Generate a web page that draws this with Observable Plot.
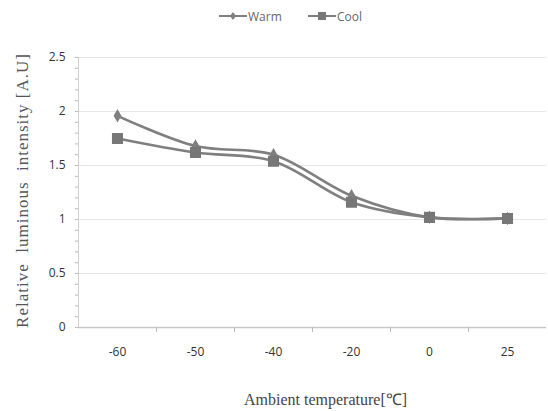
<!DOCTYPE html>
<html><head><meta charset="utf-8">
<script src="https://cdn.jsdelivr.net/npm/d3@7"></script>
<script src="https://cdn.jsdelivr.net/npm/@observablehq/plot@0.6"></script>
<style>
html,body{margin:0;padding:0;background:#fff;}
#legend{height:36px;position:relative;font-family:"Open Sans",sans-serif;font-size:12px;color:#666;}
#legend .item{position:absolute;top:7px;display:flex;align-items:center;}
#legend svg{display:block;}
</style>
</head><body>
<div id="legend"></div>
<div id="chart"></div>
<script>
const temps = ["-60", "-50", "-40", "-20", "0", "25"];
const warm = [1.96, 1.68, 1.60, 1.22, 1.02, 1.01];
const cool = [1.75, 1.62, 1.54, 1.16, 1.02, 1.01];
const seriesNames = ["Warm", "Cool"];
const yTicks = [0, 0.5, 1, 1.5, 2, 2.5];
const yLabel = "Relative  luminous  intensity [A.U]";
const xLabel = "Ambient temperature[℃]";

const rows = [];
temps.forEach((t, i) => {
  rows.push({i, t, s: "Warm", v: warm[i]});
  rows.push({i, t, s: "Cool", v: cool[i]});
});
const warmRows = rows.filter(d => d.s === "Warm");
const coolRows = rows.filter(d => d.s === "Cool");
const idx = temps.map((_, i) => i);
const bounds = temps.slice(1).map((_, i) => i + 0.5);
const minor = d3.range(0, 2.5001, 0.1).map(v => +v.toFixed(1));

const grey = "#7f7f7f";
const chart = Plot.plot({
  width: 548,
  height: 375,
  marginLeft: 78,
  marginRight: 2,
  marginTop: 21,
  marginBottom: 84,
  style: {fontFamily: "'Open Sans', sans-serif", fontSize: "12px", color: "#333", background: "#fff", overflow: "visible"},
  x: {type: "linear", domain: [-0.5, temps.length - 0.5]},
  y: {domain: [0, 2.5]},
  marks: [
    Plot.gridY(yTicks.slice(1), {stroke: "#e6e6e6", strokeOpacity: 1}),
    Plot.axisY(minor, {tickSize: 3, tickFormat: () => "", stroke: "#bbb", label: null}),
    Plot.axisY(yTicks, {tickSize: 0, tickPadding: 13, tickFormat: d => String(d), label: null, fill: "#333", fontSize: 12}),
    Plot.ruleY([0], {stroke: "#c8c8c8", strokeWidth: 1.5}),
    Plot.ruleX([-0.5], {stroke: "#d0d0d0", strokeWidth: 1}),
    Plot.axisX(bounds, {tickSize: 5, tickFormat: () => "", stroke: "#bbb", label: null}),
    Plot.axisX(idx, {tickSize: 0, tickPadding: 20, tickFormat: i => temps[i], label: null, fill: "#333", fontSize: 12}),
    Plot.line(warmRows, {x: "i", y: "v", stroke: grey, strokeWidth: 2.6, curve: "catmull-rom"}),
    Plot.dot(warmRows, {x: "i", y: "v", symbol: "diamond", r: 3.2, fill: grey, stroke: grey}),
    Plot.line(coolRows, {x: "i", y: "v", stroke: grey, strokeWidth: 2.6, curve: "catmull-rom"}),
    Plot.dot(coolRows, {x: "i", y: "v", symbol: "square", r: 5.4, fill: "#777", stroke: "#777"}),
    Plot.text([yLabel], {frameAnchor: "left", textAnchor: "middle", dx: -56, dy: -2, rotate: -90, fontFamily: "'Liberation Serif', serif", fontSize: 17, fill: "#555"}),
    Plot.text([xLabel], {frameAnchor: "bottom", textAnchor: "middle", dx: 13, dy: 77, fontFamily: "'Liberation Serif', serif", fontSize: 16, fill: "#444"})
  ]
});
d3.select(chart).selectAll("text").filter(function() { return this.textContent === yLabel; })
  .style("letter-spacing", "1px");
document.getElementById("chart").appendChild(chart);

// legend
const leg = document.getElementById("legend");
const pos = {Warm: 219, Cool: 308};
seriesNames.forEach(name => {
  const item = document.createElement("div");
  item.className = "item";
  item.style.left = pos[name] + "px";
  const mk = name === "Warm"
    ? `<path d="M14,5 L17,9 L14,13 L11,9 Z" fill="${grey}"/>`
    : `<rect x="10" y="5" width="8" height="8" fill="#777"/>`;
  item.innerHTML = `<svg width="28" height="18"><line x1="0" y1="9" x2="28" y2="9" stroke="${grey}" stroke-width="2"/>${mk}</svg><span style="margin-left:1px">${name}</span>`;
  leg.appendChild(item);
});
</script>
</body></html>
